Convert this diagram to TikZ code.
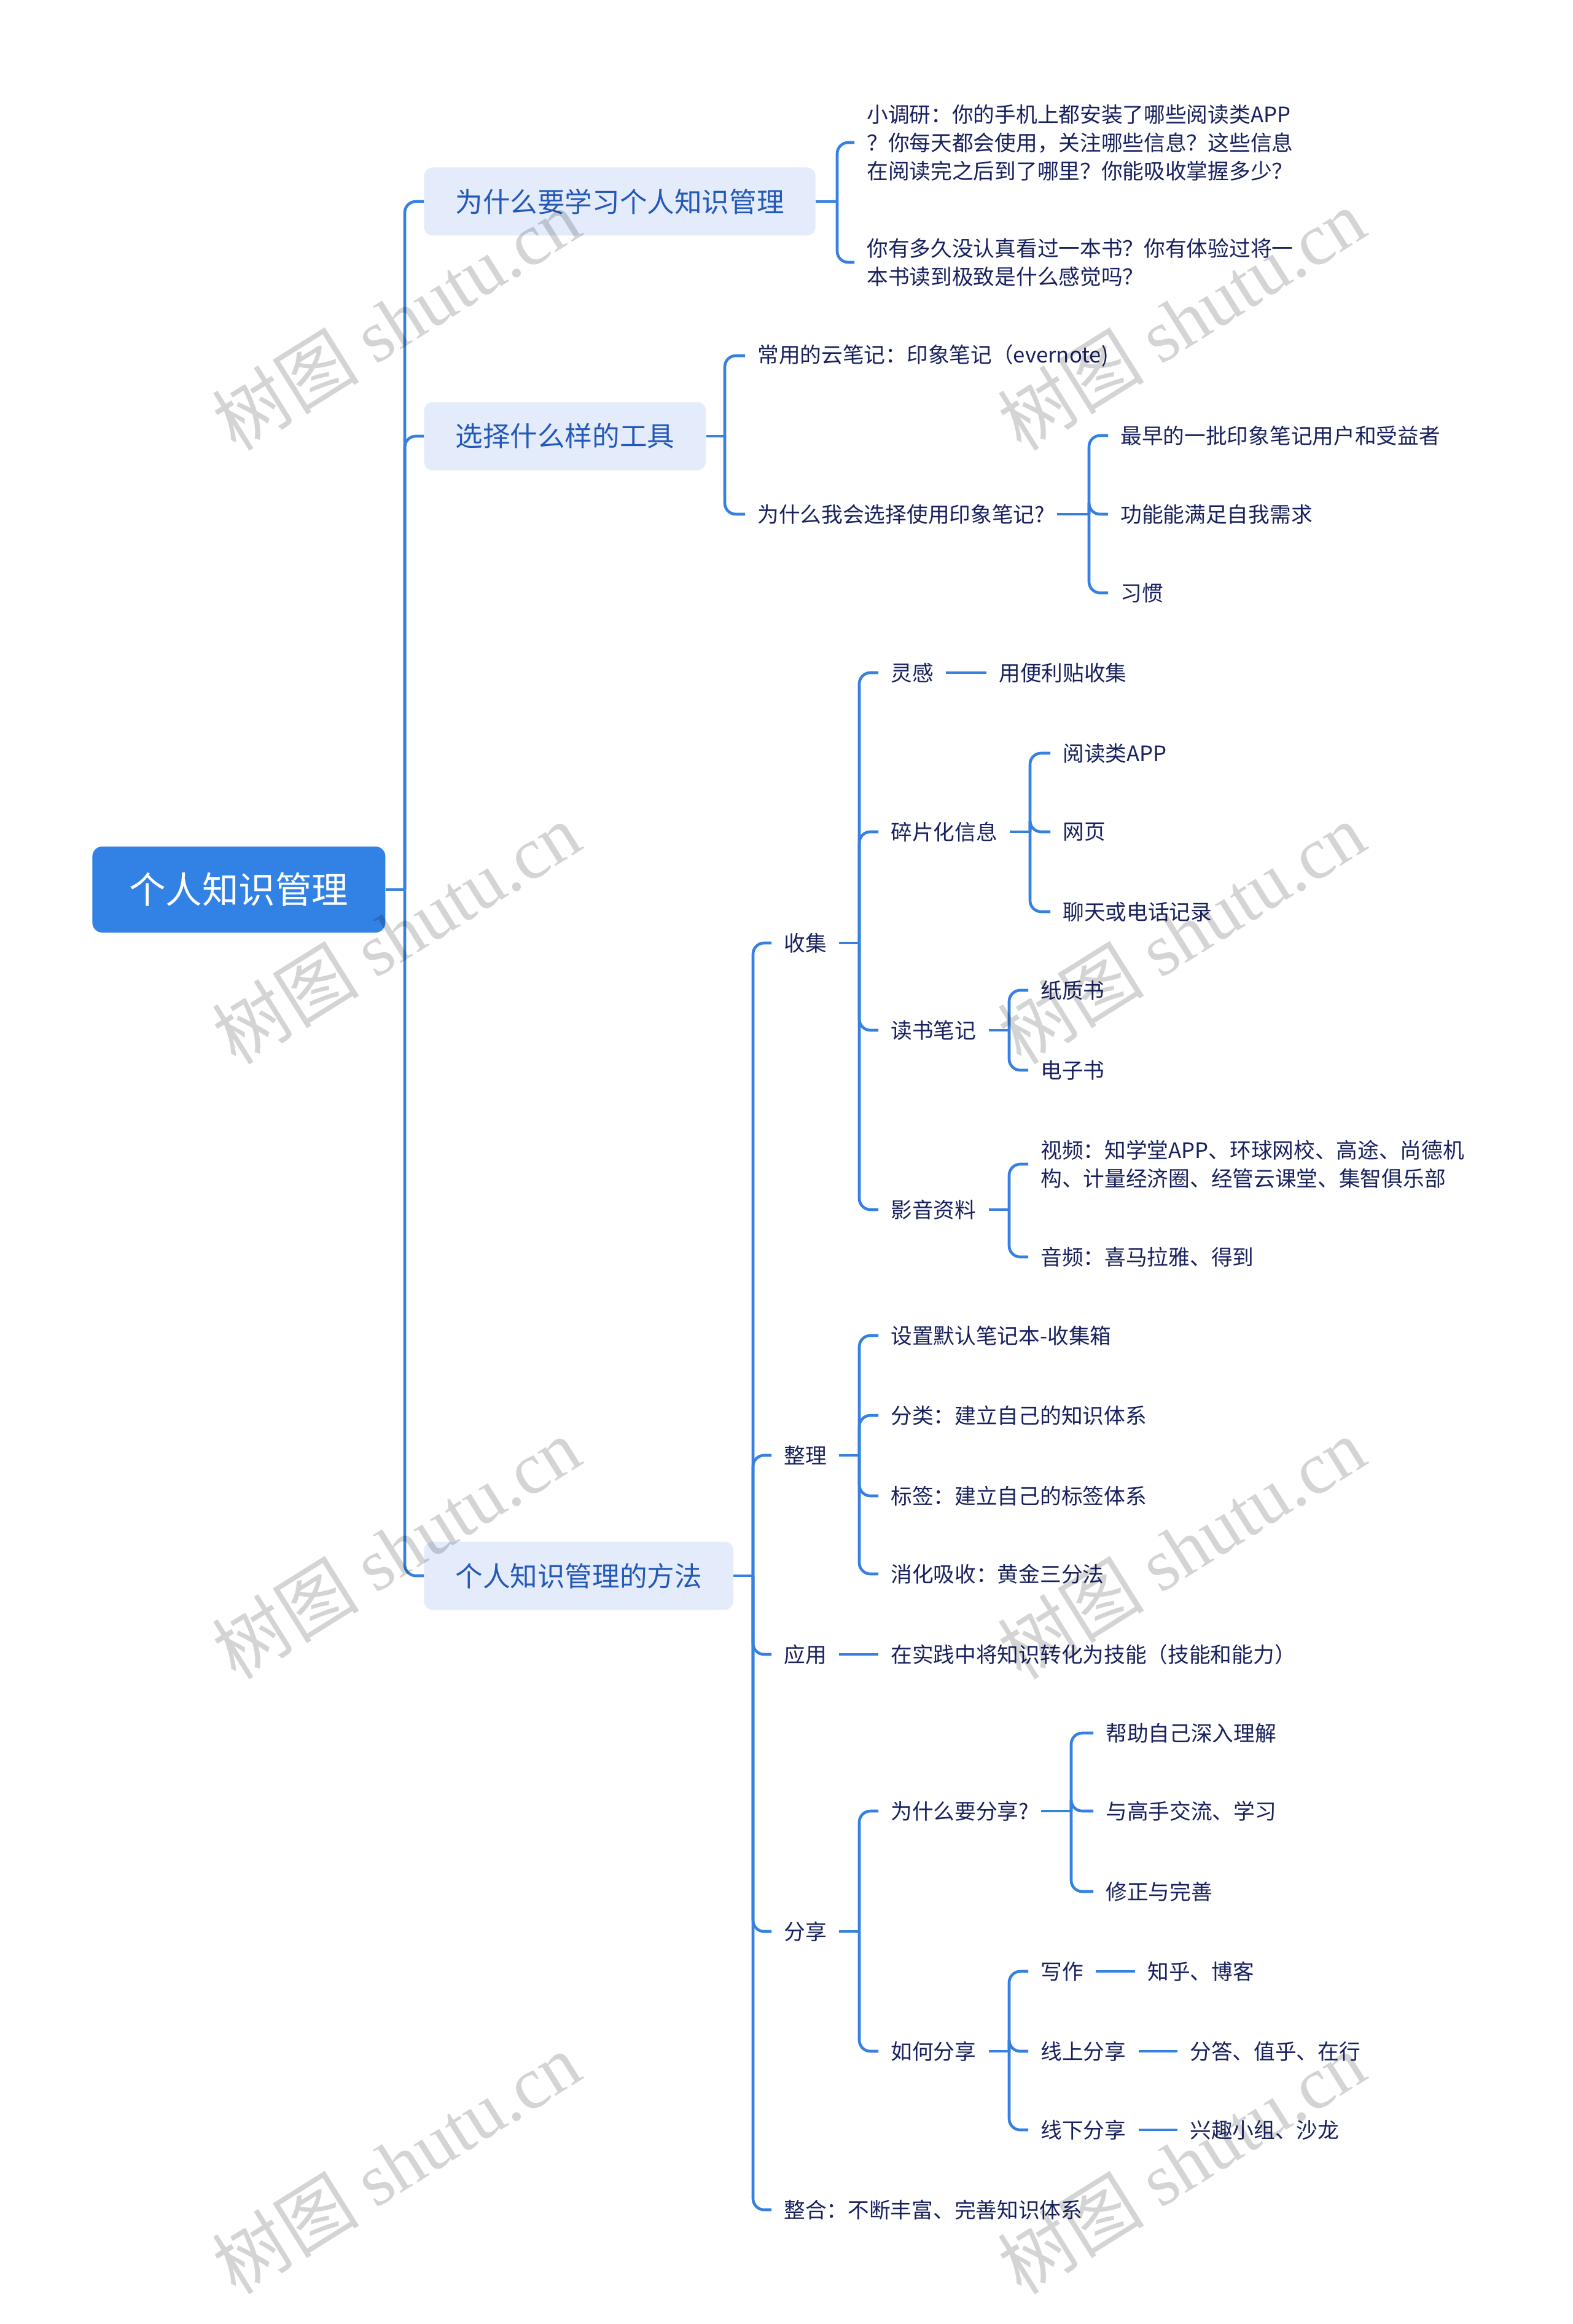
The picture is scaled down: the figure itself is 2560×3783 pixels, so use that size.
\documentclass[tikz,border=0pt]{standalone}
\usepackage{fontspec}
\setmainfont{Noto Sans CJK SC}
\newfontfamily\wmlatin{Liberation Serif}
\definecolor{lineblue}{HTML}{3580E0}
\definecolor{rootfill}{HTML}{3282E6}
\definecolor{lonefill}{HTML}{E4ECFC}
\definecolor{lonetext}{HTML}{2459B8}
\definecolor{leaftext}{HTML}{18215E}
\begin{document}
\begin{tikzpicture}[x=0.5pt,y=-0.5pt,
  conn/.style={draw=lineblue, line width=2.3pt, rounded corners=9pt},
  leaf/.style={anchor=west, inner xsep=10pt, inner ysep=2pt, text=leaftext, align=left,
    font=\fontsize{17.35pt}{23pt}\selectfont},
  lone/.style={anchor=west, fill=lonefill, rounded corners=7pt, minimum height=55.5pt,
    inner xsep=25.5pt, text=lonetext, font=\fontsize{22.3pt}{28pt}\selectfont},
  rootbox/.style={anchor=west, fill=rootfill, rounded corners=8pt, minimum height=70pt,
    inner xsep=30pt, text=white, font=\fontsize{29.75pt}{36pt}\selectfont},
  wm/.style={rotate=32, text=black, text opacity=0.17, inner sep=0pt}
]
\fill[white] (0,0) rectangle (2560,3783);
\useasboundingbox (0,0) rectangle (2560,3783);

% root
\node[rootbox] (root) at (150,1448) {个人知识管理};
% level 1
\node[lone] (b1) at (690,328) {为什么要学习个人知识管理};
\node[lone] (b2) at (690,710) {选择什么样的工具};
\node[lone] (b3) at (690,2565) {个人知识管理的方法};

% branch 1
\node[leaf] (a1) at (1391,232) {小调研：你的手机上都安装了哪些阅读类APP\\？你每天都会使用，关注哪些信息？这些信息\\在阅读完之后到了哪里？你能吸收掌握多少？};
\node[leaf] (a2) at (1391,427) {你有多久没认真看过一本书？你有体验过将一\\本书读到极致是什么感觉吗？};

% branch 2
\node[leaf] (c1) at (1213,579) {常用的云笔记：印象笔记（evernote)};
\node[leaf] (c2) at (1213,837) {为什么我会选择使用印象笔记?};
\node[leaf] (d1) at (1804,709) {最早的一批印象笔记用户和受益者};
\node[leaf] (d2) at (1804,837) {功能能满足自我需求};
\node[leaf] (d3) at (1804,965) {习惯};

% branch 3
\node[leaf] (e1) at (1256,1535) {收集};
\node[leaf] (e2) at (1256,2369) {整理};
\node[leaf] (e3) at (1256,2693) {应用};
\node[leaf] (e4) at (1256,3144) {分享};
\node[leaf] (e5) at (1256,3597) {整合：不断丰富、完善知识体系};

\node[leaf] (f1) at (1430,1095) {灵感};
\node[leaf] (f1b) at (1606,1095) {用便利贴收集};
\node[leaf] (f2) at (1430,1354) {碎片化信息};
\node[leaf] (g1) at (1710,1226) {阅读类APP};
\node[leaf] (g2) at (1710,1354) {网页};
\node[leaf] (g3) at (1710,1484) {聊天或电话记录};
\node[leaf] (f3) at (1430,1677) {读书笔记};
\node[leaf] (h1) at (1674,1612) {纸质书};
\node[leaf] (h2) at (1674,1742) {电子书};
\node[leaf] (f4) at (1430,1969) {影音资料};
\node[leaf] (i1) at (1674,1895) {视频：知学堂APP、环球网校、高途、尚德机\\构、计量经济圈、经管云课堂、集智俱乐部};
\node[leaf] (i2) at (1674,2046) {音频：喜马拉雅、得到};

\node[leaf] (j1) at (1430,2174) {设置默认笔记本-收集箱};
\node[leaf] (j2) at (1430,2304) {分类：建立自己的知识体系};
\node[leaf] (j3) at (1430,2435) {标签：建立自己的标签体系};
\node[leaf] (j4) at (1430,2562) {消化吸收：黄金三分法};

\node[leaf] (k1) at (1430,2693) {在实践中将知识转化为技能（技能和能力）};

\node[leaf] (l1) at (1430,2948) {为什么要分享?};
\node[leaf] (m1) at (1780,2821) {帮助自己深入理解};
\node[leaf] (m2) at (1780,2948) {与高手交流、学习};
\node[leaf] (m3) at (1780,3079) {修正与完善};
\node[leaf] (l2) at (1430,3339) {如何分享};
\node[leaf] (n1) at (1674,3209) {写作};
\node[leaf] (n1b) at (1848,3209) {知乎、博客};
\node[leaf] (n2) at (1674,3339) {线上分享};
\node[leaf] (n2b) at (1917,3339) {分答、值乎、在行};
\node[leaf] (n3) at (1674,3467) {线下分享};
\node[leaf] (n3b) at (1917,3467) {兴趣小组、沙龙};

% spine coordinates
\coordinate (m0) at (659,1448);
\coordinate (s1) at (1363,328);
\coordinate (s2) at (1180,710);
\coordinate (s21) at (1773,837);
\coordinate (s3) at (1226,2565);
\coordinate (s31) at (1399,1535);
\coordinate (s32) at (1677,1354);
\coordinate (s33) at (1643,1677);
\coordinate (s34) at (1643,1969);
\coordinate (s35) at (1399,2369);
\coordinate (s36) at (1399,3144);
\coordinate (s37) at (1744,2948);
\coordinate (s38) at (1643,3339);

% connectors
\draw[conn] (root.east) -- (m0);
\foreach \c in {b1,b2,b3} \draw[conn] (m0) |- (\c.west);

\draw[conn] (b1.east) -- (s1);
\foreach \c in {a1,a2} \draw[conn] (s1) |- (\c.west);

\draw[conn] (b2.east) -- (s2);
\foreach \c in {c1,c2} \draw[conn] (s2) |- (\c.west);
\draw[conn] (c2.east) -- (s21);
\foreach \c in {d1,d2,d3} \draw[conn] (s21) |- (\c.west);

\draw[conn] (b3.east) -- (s3);
\foreach \c in {e1,e2,e3,e4,e5} \draw[conn] (s3) |- (\c.west);

\draw[conn] (e1.east) -- (s31);
\foreach \c in {f1,f2,f3,f4} \draw[conn] (s31) |- (\c.west);
\draw[conn] (f1.east) -- (f1b.west);
\draw[conn] (f2.east) -- (s32);
\foreach \c in {g1,g2,g3} \draw[conn] (s32) |- (\c.west);
\draw[conn] (f3.east) -- (s33);
\foreach \c in {h1,h2} \draw[conn] (s33) |- (\c.west);
\draw[conn] (f4.east) -- (s34);
\foreach \c in {i1,i2} \draw[conn] (s34) |- (\c.west);

\draw[conn] (e2.east) -- (s35);
\foreach \c in {j1,j2,j3,j4} \draw[conn] (s35) |- (\c.west);

\draw[conn] (e3.east) -- (k1.west);

\draw[conn] (e4.east) -- (s36);
\foreach \c in {l1,l2} \draw[conn] (s36) |- (\c.west);
\draw[conn] (l1.east) -- (s37);
\foreach \c in {m1,m2,m3} \draw[conn] (s37) |- (\c.west);
\draw[conn] (l2.east) -- (s38);
\foreach \c in {n1,n2,n3} \draw[conn] (s38) |- (\c.west);
\draw[conn] (n1.east) -- (n1b.west);
\draw[conn] (n2.east) -- (n2b.west);
\draw[conn] (n3.east) -- (n3b.west);

% watermarks (semi-transparent, on top)
\foreach \wx/\wy [count=\i] in {645/520,1923/520,645/1519,1923/1519,645/2520,1923/2520,645/3521,1923/3521}{
  \node[wm] (wm\i) at (\wx,\wy) {\fontsize{60pt}{66pt}\selectfont 树图 {\wmlatin shutu.cn}};
}
\end{tikzpicture}
\end{document}
